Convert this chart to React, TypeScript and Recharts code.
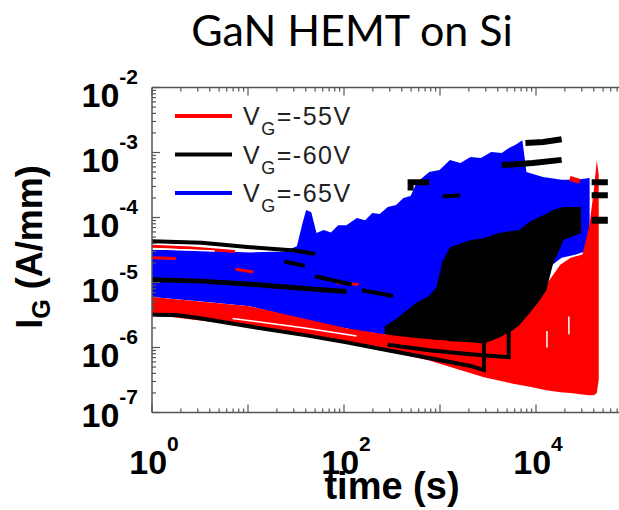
import React from 'react';
import { ComposedChart, Area, Line, XAxis, YAxis, Legend, Label } from 'recharts';

const FONT = "'Liberation Sans', Arial, Helvetica, sans-serif";
const RED = '#ff0000';
const BLACK = '#000000';
const BLUE = '#0000ff';
const AXIS = '#555555';

// x = time (s), y = gate current (A/mm), both on log axes
const xDomain = [1, 1e5];
const yDomain = [1e-7, 1e-2];
const xLabelExps = [0, 2, 4];
const yLabelExps = [-2, -3, -4, -5, -6, -7];

// VG = -65 V: envelope of the blue cloud
const blueT = [1, 3.3, 10.5, 23.9, 32.3, 36.5, 40.3, 45.6, 51.7, 61.5, 73.1, 87, 106, 136, 166, 197, 235, 286, 349, 415, 494, 574, 773, 990, 1270, 1630, 2080, 2670, 3420, 4390, 5220, 6060, 7210, 7960, 11800, 18500, 26200, 36200];
const blueHi = [3.2e-5, 3.1e-5, 2.9e-5, 3.0e-5, 3.6e-5, 7.6e-5, 1.3e-4, 1.2e-4, 5.8e-5, 6.4e-5, 5.9e-5, 7.6e-5, 7.6e-5, 9.8e-5, 9.1e-5, 1.17e-4, 1.13e-4, 1.45e-4, 1.56e-4, 2.0e-4, 2.15e-4, 3.5e-4, 5.0e-4, 5.4e-4, 7.7e-4, 6.9e-4, 8.5e-4, 8.2e-4, 1.02e-3, 9.8e-4, 1.17e-3, 1.3e-3, 1.55e-3, 5.0e-4, 4.2e-4, 3.8e-4, 3.8e-4, 4.05e-4];
const blueLo = [6.0e-6, 5.1e-6, 4.3e-6, 3.2e-6, 2.9e-6, 2.6e-6, 2.5e-6, 2.4e-6, 2.3e-6, 2.2e-6, 2.1e-6, 2.05e-6, 1.97e-6, 1.8e-6, 1.75e-6, 1.7e-6, 1.6e-6, 1.6e-6, 1.75e-6, 1.9e-6, 2.05e-6, 2.2e-6, 2.6e-6, 3.0e-6, 3.4e-6, 3.9e-6, 4.3e-6, 4.5e-6, 5.3e-6, 6.0e-6, 6.7e-6, 7.3e-6, 8.4e-6, 9.3e-6, 1.45e-5, 2.4e-5, 2.7e-5, 3.2e-5];

// VG = -55 V: low band plus the breakdown burst at the end
const redT = [1, 10.5, 106, 265, 770, 2870, 5600, 8600, 12800, 18000, 23000, 30500, 36000, 40000, 43000, 45000];
const redHi = [6.0e-6, 4.3e-6, 1.97e-6, 1.6e-6, 1.6e-6, 1.55e-6, 2.2e-6, 3.9e-6, 9.3e-6, 1.9e-5, 2.4e-5, 2.7e-5, 7.6e-5, 2.6e-4, 7.7e-4, 4.5e-4];
const redLo = [3.2e-6, 2.1e-6, 1.2e-6, 9.1e-7, 6.3e-7, 3.5e-7, 2.8e-7, 2.5e-7, 2.2e-7, 2.05e-7, 2.0e-7, 1.9e-7, 1.85e-7, 1.85e-7, 2.0e-7, 3.2e-7];

// VG = -60 V: dense region after the devices start to degrade
const blackT = [265, 366, 556, 770, 920, 1060, 1270, 2090, 2870, 4060, 5600, 6700, 8600, 11000, 12800, 15000, 19400, 29500];
const blackHi = [2.1e-6, 2.9e-6, 4.8e-6, 6.2e-6, 8.5e-6, 2.1e-5, 3.5e-5, 4.5e-5, 4.8e-5, 5.8e-5, 6.2e-5, 6.4e-5, 8.6e-5, 1.03e-4, 1.13e-4, 1.3e-4, 1.45e-4, 1.45e-4];
const blackLo = [1.6e-6, 1.5e-6, 1.4e-6, 1.35e-6, 1.3e-6, 1.3e-6, 1.25e-6, 1.2e-6, 1.15e-6, 1.4e-6, 1.8e-6, 2.2e-6, 3.4e-6, 5.4e-6, 7.6e-6, 1.9e-5, 4.5e-5, 5.8e-5];

// individual -60 V traces
const blkBottomT = [1, 1.8, 3.3, 10.5, 39, 106, 285, 770, 2090, 2870, 2870];
const blkBottomI = [3.2e-6, 3.15e-6, 2.8e-6, 2.1e-6, 1.55e-6, 1.2e-6, 9.1e-7, 6.9e-7, 5.2e-7, 4.5e-7, 1.7e-6];
const blkStepT = [285, 770, 2090, 5200, 5200];
const blkStepI = [1.1e-6, 9.1e-7, 7.9e-7, 7.1e-7, 2.4e-6];
const blkTopT = [1, 3.3, 10.5, 30.7, 50];
const blkTopI = [4.3e-5, 4.1e-5, 3.5e-5, 3.1e-5, 2.75e-5];
const blkMidT = [1, 3.3, 11.4, 39, 106];
const blkMidI = [1.1e-5, 1.05e-5, 9.3e-6, 8.1e-6, 7.3e-6];
const blkTail1T = [7760, 11900, 18500];
const blkTail1I = [1.4e-3, 1.45e-3, 1.6e-3];
const blkTail2T = [4390, 9240, 18500];
const blkTail2I = [6.4e-4, 6.9e-4, 7.7e-4];
const blkJumpT = [494, 494, 770];
const blkJumpI = [2.6e-4, 3.5e-4, 3.5e-4];
const blkEndT = [38000, 56000];
const blkEnd1I = [3.5e-4, 3.5e-4];
const blkEnd2I = [2.2e-4, 2.2e-4];
const blkEnd3I = [9.1e-5, 9.1e-5];
const blkDash1T = [1060, 1620];
const blkDash1I = [2.1e-4, 2.2e-4];
const blkDash2T = [23.9, 39];
const blkDash2I = [2.1e-5, 1.8e-5];
const blkDash3T = [50, 120];
const blkDash3I = [1.25e-5, 9.3e-6];
const blkDash4T = [154, 324];
const blkDash4I = [7.6e-6, 6.2e-6];

// individual -55 V traces running inside the blue cloud
const redTopT = [1, 2.56, 7.3];
const redTopI = [3.6e-5, 3.4e-5, 3.0e-5];
const red2T = [1, 1.77];
const red2I = [2.4e-5, 2.35e-5];
const red3T = [83, 142];
const red3I = [1.0e-5, 9.3e-6];
const red4T = [7.4, 11.4];
const red4I = [1.6e-5, 1.45e-5];
const red5T = [22500, 28500];
const red5I = [4.0e-4, 3.6e-4];

// gaps between neighbouring traces
const gap1T = [1, 4.5];
const gap1I = [3.3e-5, 3.05e-5];
const gap2T = [6.9, 39, 135];
const gap2I = [2.8e-6, 2.0e-6, 1.5e-6];
const gap3T = [13000, 13000];
const gap3I = [1.8e-6, 1.0e-6];
const gap4T = [22000, 22000];
const gap4I = [3.0e-6, 1.6e-6];

const legendItems = [
  { color: RED, v: '-55V' },
  { color: BLACK, v: '-60V' },
  { color: BLUE, v: '-65V' },
];

const band = (t: number[], lo: number[], hi: number[]) => t.map((v, k) => ({ t: v, range: [lo[k], hi[k]] }));
const trace = (t: number[], i: number[]) => t.map((v, k) => ({ t: v, i: i[k] }));

const traces = [
  { id: 'r1', color: RED, w: 3, data: trace(redTopT, redTopI) },
  { id: 'r2', color: RED, w: 3, data: trace(red2T, red2I) },
  { id: 'r3', color: RED, w: 3, data: trace(red3T, red3I) },
  { id: 'r4', color: RED, w: 3, data: trace(red4T, red4I) },
  { id: 'r5', color: RED, w: 5, data: trace(red5T, red5I) },
  { id: 'g1', color: '#ffffff', w: 1.5, data: trace(gap1T, gap1I) },
  { id: 'g2', color: '#ffffff', w: 1.5, data: trace(gap2T, gap2I) },
  { id: 'g3', color: '#ffffff', w: 1.5, data: trace(gap3T, gap3I) },
  { id: 'g4', color: '#ffffff', w: 1.5, data: trace(gap4T, gap4I) },
  { id: 'b1', color: BLACK, w: 4, data: trace(blkBottomT, blkBottomI) },
  { id: 'b2', color: BLACK, w: 4, data: trace(blkStepT, blkStepI) },
  { id: 'b3', color: BLACK, w: 4, data: trace(blkTopT, blkTopI) },
  { id: 'b4', color: BLACK, w: 5, data: trace(blkMidT, blkMidI) },
  { id: 'b5', color: BLACK, w: 6, data: trace(blkTail1T, blkTail1I) },
  { id: 'b6', color: BLACK, w: 6, data: trace(blkTail2T, blkTail2I) },
  { id: 'b7', color: BLACK, w: 6, data: trace(blkJumpT, blkJumpI) },
  { id: 'b8', color: BLACK, w: 6, data: trace(blkEndT, blkEnd1I) },
  { id: 'b9', color: BLACK, w: 6, data: trace(blkEndT, blkEnd2I) },
  { id: 'b10', color: BLACK, w: 7, data: trace(blkEndT, blkEnd3I) },
  { id: 'b11', color: BLACK, w: 4, data: trace(blkDash1T, blkDash1I) },
  { id: 'b12', color: BLACK, w: 4, data: trace(blkDash2T, blkDash2I) },
  { id: 'b13', color: BLACK, w: 4, data: trace(blkDash3T, blkDash3I) },
  { id: 'b14', color: BLACK, w: 4, data: trace(blkDash4T, blkDash4I) },
];

// decade ticks plus the 2..9 minor ticks
const logTicks = (lo: number, hi: number) => {
  const out: number[] = [];
  for (let d = lo; d <= hi; d++) {
    for (let m = 1; m <= 9; m++) {
      if (d === hi && m > 1) break;
      out.push(m * Math.pow(10, d));
    }
  }
  return out;
};
const xTicks = logTicks(0, 5);
const yTicks = logTicks(-7, -2);

const decade = (v: number) => {
  const e = Math.log10(v);
  const r = Math.round(e);
  return Math.abs(e - r) < 1e-6 ? r : null;
};

const BottomTick = ({ x, y, payload }: any) => {
  const e = decade(payload.value);
  return (
    <g>
      <line x1={x} x2={x} y1={y} y2={y - (e !== null ? 8 : 4)} stroke={AXIS} strokeWidth={1.2} />
      {e !== null && xLabelExps.includes(e) && (
        <text x={x + 2} y={y + 61} textAnchor="middle" fontFamily={FONT} fontWeight="bold" fontSize={34} fill="#000">
          10<tspan dy={-23} fontSize={21}>{e}</tspan>
        </text>
      )}
    </g>
  );
};

const TopTick = ({ x, y, payload }: any) => {
  const e = decade(payload.value);
  return <line x1={x} x2={x} y1={y} y2={y + (e !== null ? 8 : 4)} stroke={AXIS} strokeWidth={1.2} />;
};

const LeftTick = ({ x, y, payload }: any) => {
  const e = decade(payload.value);
  return (
    <g>
      <line x1={x} x2={x + (e !== null ? 8 : 4)} y1={y} y2={y} stroke={AXIS} strokeWidth={1.2} />
      {e !== null && yLabelExps.includes(e) && (
        <text x={x - 14} y={y + (e === -7 ? 14 : 19)} textAnchor="end" fontFamily={FONT} fontWeight="bold" fontSize={34} fill="#000">
          10<tspan dy={-23} fontSize={21}>{e}</tspan>
        </text>
      )}
    </g>
  );
};

const RightTick = ({ x, y, payload }: any) => {
  const e = decade(payload.value);
  return <line x1={x} x2={x - (e !== null ? 8 : 4)} y1={y} y2={y} stroke={AXIS} strokeWidth={1.2} />;
};

const XTitle = ({ viewBox }: any) => (
  <text x={viewBox.x + viewBox.width / 2} y={viewBox.y + 86} textAnchor="middle" fontFamily={FONT} fontWeight="bold" fontSize={38} fill="#000">
    time (s)
  </text>
);

const YTitle = ({ viewBox }: any) => {
  const cx = 42;
  const cy = viewBox.y + viewBox.height / 2 - 3;
  return (
    <text x={cx} y={cy} transform={`rotate(-90, ${cx}, ${cy})`} textAnchor="middle" fontFamily={FONT} fontWeight="bold" fontSize={36} fill="#000">
      I<tspan dy={8} fontSize={25}>G</tspan>
      <tspan dy={-8}> (A/mm)</tspan>
    </text>
  );
};

const LegendBox = () => (
  <svg width={200} height={120} style={{ display: 'block' }}>
    {legendItems.map((item, k) => {
      const cy = 21 + k * 38.5;
      return (
        <g key={item.v}>
          <line x1={5} x2={62} y1={cy} y2={cy} stroke={item.color} strokeWidth={4} />
          <text x={73} y={cy + 9} fontFamily={FONT} fontSize={25} letterSpacing={1.5} fill="#222">
            V<tspan dy={10} fontSize={18}>G</tspan>
            <tspan dy={-10}>={item.v}</tspan>
          </text>
        </g>
      );
    })}
  </svg>
);

export default function App() {
  return (
    <div style={{ position: 'relative', width: 619, height: 510, background: '#fff' }}>
      <style>{'body{margin:0}'}</style>
      <div
        style={{
          position: 'absolute',
          left: 352,
          top: 8,
          transform: 'translateX(-50%)',
          whiteSpace: 'nowrap',
          fontFamily: 'Lato, sans-serif',
          fontSize: 43,
          lineHeight: '44px',
          color: '#000',
        }}
      >
        GaN HEMT on Si
      </div>
      <ComposedChart width={619} height={510} margin={{ top: 86.5, right: -14, bottom: 0, left: 0 }}>
        <XAxis
          xAxisId="bottom"
          dataKey="t"
          type="number"
          scale="log"
          domain={xDomain}
          allowDataOverflow
          ticks={xTicks}
          interval={0}
          tickSize={0}
          tickMargin={0}
          tickLine={false}
          tick={<BottomTick />}
          height={97.5}
          axisLine={{ stroke: AXIS, strokeWidth: 1.5 }}
          label={<Label content={<XTitle />} />}
        />
        <XAxis
          xAxisId="top"
          orientation="top"
          dataKey="t"
          type="number"
          scale="log"
          domain={xDomain}
          allowDataOverflow
          ticks={xTicks}
          interval={0}
          tickSize={0}
          tickMargin={0}
          tickLine={false}
          tick={<TopTick />}
          height={1}
          axisLine={{ stroke: AXIS, strokeWidth: 1.5 }}
        />
        <YAxis
          yAxisId="left"
          type="number"
          scale="log"
          domain={yDomain}
          allowDataOverflow
          ticks={yTicks}
          interval={0}
          tickSize={0}
          tickMargin={0}
          tickLine={false}
          tick={<LeftTick />}
          width={152}
          axisLine={{ stroke: AXIS, strokeWidth: 1.5 }}
          label={<Label content={<YTitle />} />}
        />
        <YAxis
          yAxisId="right"
          orientation="right"
          type="number"
          scale="log"
          domain={yDomain}
          allowDataOverflow
          ticks={yTicks}
          interval={0}
          tickSize={0}
          tickMargin={0}
          tickLine={false}
          tick={<RightTick />}
          width={1}
          axisLine={{ stroke: AXIS, strokeWidth: 1.5 }}
        />
        <Area
          xAxisId="bottom"
          yAxisId="left"
          data={band(blueT, blueLo, blueHi)}
          dataKey="range"
          type="linear"
          fill={BLUE}
          fillOpacity={1}
          stroke="none"
          dot={false}
          activeDot={false}
          legendType="none"
          isAnimationActive={false}
        />
        <Area
          xAxisId="bottom"
          yAxisId="left"
          data={band(redT, redLo, redHi)}
          dataKey="range"
          type="linear"
          fill={RED}
          fillOpacity={1}
          stroke="none"
          dot={false}
          activeDot={false}
          legendType="none"
          isAnimationActive={false}
        />
        <Area
          xAxisId="bottom"
          yAxisId="left"
          data={band(blackT, blackLo, blackHi)}
          dataKey="range"
          type="linear"
          fill={BLACK}
          fillOpacity={1}
          stroke="none"
          dot={false}
          activeDot={false}
          legendType="none"
          isAnimationActive={false}
        />
        {traces.map((tr) => (
          <Line
            key={tr.id}
            xAxisId="bottom"
            yAxisId="left"
            data={tr.data}
            dataKey="i"
            type="linear"
            stroke={tr.color}
            strokeWidth={tr.w}
            dot={false}
            activeDot={false}
            legendType="none"
            isAnimationActive={false}
          />
        ))}
        <Legend
          layout="horizontal"
          verticalAlign="middle"
          align="center"
          content={<LegendBox />}
          wrapperStyle={{ left: 170, top: 95, width: 200, height: 120 }}
        />
      </ComposedChart>
    </div>
  );
}
